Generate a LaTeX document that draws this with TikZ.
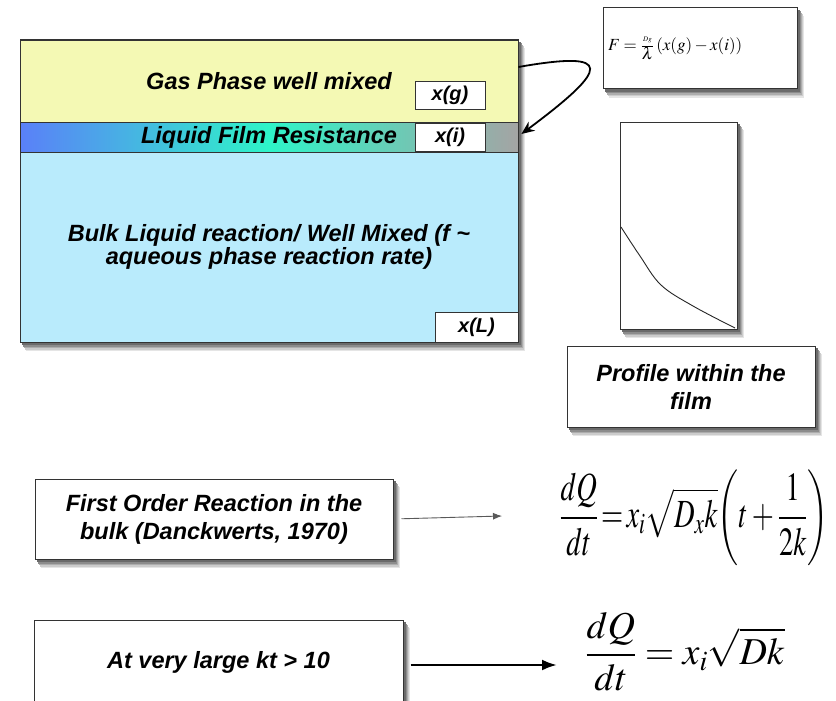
\documentclass[tikz,border=0pt]{standalone}
\usepackage{mathptmx}
\usepackage{graphicx}
\usepackage{fontspec}
\setmainfont{Liberation Serif}
\setsansfont{Liberation Sans}
\usetikzlibrary{arrows.meta,positioning,calc,backgrounds}
\definecolor{cgas}{HTML}{F4F9B4}
\definecolor{cbulk}{HTML}{B9EBFC}
\definecolor{cfilmleft}{HTML}{5A80F8}
\definecolor{cfilmmid}{HTML}{2EF4C8}
\definecolor{cfilmright}{HTML}{A4A4A4}
\definecolor{cedge}{HTML}{333333}
\newcommand{\labelfont}{\sffamily\bfseries\itshape\fontsize{23.5}{28}\selectfont}
% soft drop shadow behind a named node
\newcommand{\dropshade}[1]{%
  \begin{scope}[on background layer]
    \foreach \dx/\dy/\c in {6/8.5/10, 5/7/20, 4/5.5/32, 3/4/45, 2/2.5/58}
      \fill[black!\c] ([xshift=\dx pt, yshift=-\dy pt]#1.south west)
                      rectangle ([xshift=\dx pt, yshift=-\dy pt]#1.north east);
  \end{scope}}

\begin{document}
\begin{tikzpicture}[
    x=1pt, y=1pt,
    layer/.style={draw=cedge, line width=0.8pt, inner sep=0pt, minimum width=498pt,
                  font=\labelfont, align=center},
    tag/.style={draw=cedge, fill=white, line width=0.8pt, inner sep=0pt,
                font=\sffamily\bfseries\itshape\fontsize{20}{24}\selectfont},
    textbox/.style={draw=cedge, fill=white, line width=1pt, inner sep=0pt,
                    font=\labelfont, align=center},
    loop/.style={-{Stealth[length=13pt,width=11pt]}, line width=1.8pt, black},
    thinarr/.style={-{Latex[length=9pt,width=7pt]}, line width=0.9pt, draw=black!65},
    thickarr/.style={-{Latex[length=15pt,width=11pt]}, line width=2.6pt, black}
]
\useasboundingbox (0,0) rectangle (836,-701);

% three-layer column: gas, film, bulk liquid
\node[draw=cedge, fill=white, line width=1pt, minimum width=498pt,
      minimum height=302pt] (column) at (269,-191) {};
\node[layer, fill=cgas, minimum height=82pt] (gas) at (269,-81) {Gas Phase well mixed};
\node[layer, left color=cfilmleft, right color=cfilmright, middle color=cfilmmid,
      minimum height=30pt] (film) at (269,-137) {Liquid Film Resistance};
\node[layer, fill=cbulk, minimum height=190pt] (bulk) at (269,-247)
    {Bulk Liquid reaction/ Well Mixed (f \textasciitilde\\[-5pt]aqueous phase reaction rate)};
\node[tag, minimum width=70pt, minimum height=28pt] (xg) at (450,-95.5) {x(g)};
\node[tag, minimum width=70pt, minimum height=28pt] (xi) at (450,-137) {x(i)};
\node[tag, minimum width=83pt, minimum height=30pt] (xL) at (476.5,-327) {x(L)};
\dropshade{column}

% flux expression
\node[textbox, minimum width=194pt, minimum height=81pt, text width=184pt, align=left,
      font=\fontsize{17}{19}\selectfont] (flux) at (700,-48.5)
    {$F=\frac{\raisebox{2pt}{\fontsize{7}{8}\selectfont$Dg$}}{\textstyle\lambda}\,(x(g)-x(i))$};
\dropshade{flux}
\draw[loop] ([yshift=14pt]gas.east) .. controls (615,-50) and (610,-68) .. ([xshift=3pt,yshift=3pt]film.east);

% concentration profile across the film
\node[textbox, minimum width=117pt, minimum height=207pt] (profile) at (678.5,-225.5) {};
\dropshade{profile}
\draw[line width=0.9pt, black!85] plot[smooth, tension=0.6]
    coordinates {(621,-227) (640,-256) (661,-285) (693,-306) (735,-328)};
\node[textbox, minimum width=248pt, minimum height=81pt] (proflabel) at (691,-386.5)
    {Profile within the\\film};
\dropshade{proflabel}

% Danckwerts solution and its long-time limit
\node[textbox, minimum width=358pt, minimum height=80pt] (order) at (214,-519)
    {First Order Reaction in the\\bulk (Danckwerts, 1970)};
\dropshade{order}
\node[font=\fontsize{28.5}{34}\selectfont, inner sep=0pt] (dq1) at (694,-518)
    {\scalebox{1}[1.4]{$\displaystyle\frac{dQ}{dt}\!=\!x_i\sqrt{D_x k}\!\left(t+\frac{1}{2k}\right)$}};
\coordinate (dq1in) at (502,-516);
\draw[thinarr, shorten <=8pt] (order.east) -- (dq1in);

\node[textbox, minimum width=369pt, minimum height=84pt] (large) at (218.5,-662)
    {At very large kt > 10};
\dropshade{large}
\node[font=\fontsize{38}{44}\selectfont, inner sep=0pt] (dq2) at (685,-652)
    {$\displaystyle\frac{dQ}{dt}=x_i\sqrt{Dk}$};
\coordinate (dq2in) at (557,-665);
\draw[thickarr, shorten <=7pt] (large.east |- dq2in) -- (dq2in);
\end{tikzpicture}
\end{document}
